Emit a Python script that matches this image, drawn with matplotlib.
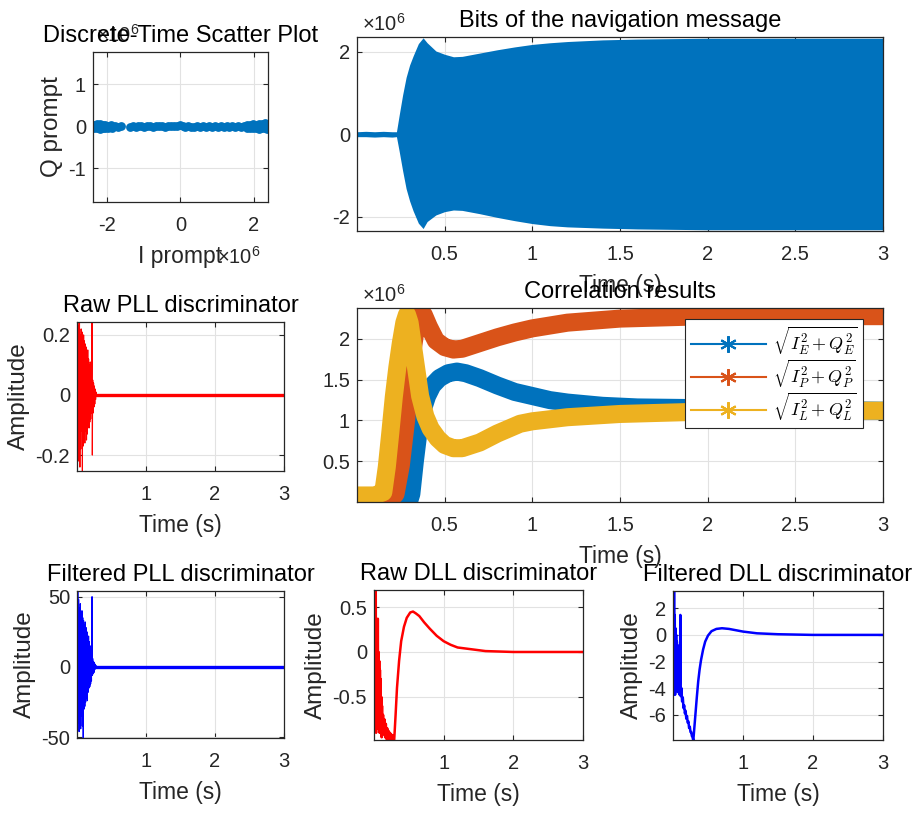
import matplotlib
matplotlib.use("Agg")
import matplotlib.pyplot as plt
from matplotlib.lines import Line2D
from matplotlib.ticker import FuncFormatter

plt.rcParams['font.family'] = ['Liberation Sans', 'DejaVu Sans']
plt.rcParams['mathtext.fontset'] = 'cm'
plt.rcParams['axes.unicode_minus'] = False

# ---- data (large quantities in units of 1e6) ----
# discrete-time scatter (I, Q prompt)
i_prompt = [-2.36, -2.36, -2.28, -2.28, -2.20, -2.20, -2.12, -2.12, -2.04, -2.04,
            -1.96, -1.96, -1.88, -1.86, -1.78, -1.70, -1.62,
            -1.38, -1.30, -1.22, -1.14, -1.06, -0.98, -0.90, -0.82, -0.74, -0.66,
            -0.58, -0.50, -0.42, -0.34, -0.26, -0.18, -0.10, -0.02, 0.06, 0.14,
            0.22, 0.30, 0.38, 0.46, 0.54, 0.62, 0.70, 0.78, 0.86, 0.94, 1.02,
            1.10, 1.18, 1.26, 1.34, 1.42, 1.50, 1.58, 1.66, 1.74,
            1.82, 1.82, 1.90, 1.90, 1.98, 1.98, 2.06, 2.06, 2.14, 2.14,
            2.22, 2.22, 2.30, 2.30, 2.36, 2.36]
q_prompt = [0.04, -0.05, 0.06, -0.04, 0.05, -0.06, 0.03, -0.05, 0.04, -0.03,
            0.02, -0.04, 0.03, -0.03, 0.01, -0.02, 0.00,
            -0.01, 0.01, -0.01, 0.02, 0.00, -0.02, 0.01, 0.02, -0.01, 0.00,
            0.02, 0.01, -0.01, 0.02, 0.00, 0.01, 0.02, 0.03, 0.01, -0.01,
            0.00, -0.02, -0.01, 0.00, -0.02, 0.01, -0.01, 0.00, -0.02, 0.01, -0.01,
            0.00, -0.02, 0.01, -0.01, 0.00, -0.01, 0.01, -0.02, 0.00,
            0.03, -0.04, 0.04, -0.05, 0.05, -0.04, 0.04, -0.05, 0.05, -0.06,
            0.06, -0.05, 0.07, -0.05, 0.05, -0.06]

# navigation bits envelope
bits_t = [0, 0.05, 0.10, 0.15, 0.20, 0.225, 0.24, 0.26, 0.28, 0.30, 0.32, 0.35,
          0.377, 0.40, 0.45, 0.50, 0.55, 0.60, 0.70, 0.80, 0.90, 1.00, 1.10,
          1.20, 1.40, 1.60, 2.00, 2.50, 3.00]
bits_hi = [0.06, 0.07, 0.06, 0.07, 0.06, 0.06, 0.45, 0.95, 1.38, 1.68, 1.90, 2.20,
           2.34, 2.22, 2.02, 1.94, 1.88, 1.89, 1.97, 2.05, 2.12, 2.18, 2.22,
           2.25, 2.29, 2.31, 2.33, 2.33, 2.33]
bits_lo = [-0.06, -0.06, -0.07, -0.06, -0.07, -0.06, -0.40, -0.88, -1.32, -1.62, -1.86, -2.16,
           -2.29, -2.12, -1.96, -1.88, -1.84, -1.85, -1.93, -2.02, -2.10, -2.17, -2.22,
           -2.25, -2.28, -2.30, -2.32, -2.32, -2.32]

# correlation results
corr_e_t = [0, 0.10, 0.20, 0.30, 0.31, 0.33, 0.35, 0.37, 0.40, 0.43, 0.47, 0.52, 0.57,
            0.62, 0.70, 0.80, 0.90, 1.00, 1.10, 1.20, 1.40, 1.60, 2.00, 2.50, 3.00]
corr_e = [0.03, 0.03, 0.03, 0.03, 0.10, 0.50, 0.85, 1.10, 1.30, 1.43, 1.52, 1.58, 1.60,
          1.58, 1.52, 1.43, 1.35, 1.30, 1.25, 1.22, 1.18, 1.16, 1.15, 1.13, 1.12]
corr_p_t = [0, 0.05, 0.10, 0.15, 0.20, 0.22, 0.25, 0.28, 0.30, 0.32, 0.34, 0.36, 0.38,
            0.41, 0.45, 0.50, 0.55, 0.60, 0.70, 0.80, 0.90, 1.00, 1.20, 1.50, 2.00,
            2.50, 3.00]
corr_p = [0.04, 0.04, 0.04, 0.04, 0.05, 0.10, 0.45, 1.00, 1.50, 1.90, 2.20, 2.30, 2.30,
          2.15, 1.98, 1.90, 1.87, 1.88, 1.95, 2.02, 2.08, 2.13, 2.20, 2.25, 2.28,
          2.28, 2.28]
corr_l_t = [0, 0.10, 0.15, 0.17, 0.19, 0.21, 0.23, 0.25, 0.27, 0.285, 0.30, 0.32, 0.34,
            0.36, 0.39, 0.42, 0.46, 0.50, 0.55, 0.60, 0.70, 0.80, 0.93, 1.00, 1.20,
            1.50, 2.00, 2.50, 3.00]
corr_l = [0.08, 0.08, 0.12, 0.43, 0.85, 1.29, 1.65, 1.95, 2.20, 2.30, 2.20, 1.90, 1.60,
          1.30, 1.05, 0.90, 0.78, 0.70, 0.66, 0.66, 0.73, 0.84, 0.96, 0.99, 1.04,
          1.08, 1.11, 1.12, 1.12]
corr_labels = [r'$\sqrt{I_E^2+Q_E^2}$', r'$\sqrt{I_P^2+Q_P^2}$', r'$\sqrt{I_L^2+Q_L^2}$']

# raw PLL discriminator
rpll_t = [0.000, 0.006, 0.012, 0.018, 0.024, 0.030, 0.036, 0.042, 0.048, 0.054,
          0.060, 0.066, 0.072, 0.078, 0.084, 0.090, 0.096, 0.102, 0.108, 0.114,
          0.120, 0.126, 0.132, 0.138, 0.144, 0.150, 0.156, 0.162, 0.168, 0.174,
          0.180, 0.186, 0.192, 0.198, 0.204, 0.210, 0.218, 0.222, 0.228, 0.234,
          0.240, 0.246, 0.252, 0.258, 0.264, 0.270, 0.276, 0.280]
rpll_v = [0.10, -0.20, 0.25, -0.22, 0.23, -0.15, 0.24, -0.24, 0.20, -0.18,
          0.22, -0.12, 0.21, -0.27, 0.19, -0.17, 0.20, -0.14, 0.18, -0.16,
          0.17, -0.12, 0.16, -0.15, 0.14, -0.13, 0.15, -0.10, 0.12, -0.11,
          0.10, -0.09, 0.11, -0.08, 0.07, -0.06, 0.30, -0.20, 0.05, -0.06,
          0.04, -0.04, 0.03, -0.03, 0.02, -0.015, 0.01, 0.0]
rpll_tail_t = [0.28, 3.0]
rpll_tail_v = [0.0, 0.0]

# filtered PLL discriminator
fpll_t = rpll_t
fpll_v = [30, -45, 56, -40, 48, -46, 42, -30, 45, -44,
          38, -35, 40, -42, 35, -52, 33, -30, 30, -28,
          32, -25, 28, -22, 25, -24, 20, -18, 22, -15,
          18, -14, 15, -12, 12, -10, 50, -6, 6, -5,
          4, -4, 3, -2, 2, -1, 1, 0]
fpll_tail_t = [0.28, 3.0]
fpll_tail_v = [0.0, 0.0]

# raw DLL discriminator
rdll_t = [0.000, 0.005, 0.010, 0.015, 0.020, 0.025, 0.030, 0.035, 0.040, 0.045,
          0.050, 0.055, 0.060, 0.065, 0.070, 0.075, 0.080, 0.085, 0.090, 0.095,
          0.100, 0.105, 0.110, 0.115, 0.120, 0.13, 0.14, 0.15, 0.16, 0.17, 0.18,
          0.19, 0.20, 0.21, 0.22, 0.23, 0.24, 0.25, 0.26, 0.27, 0.28, 0.29,
          0.31, 0.33, 0.36, 0.39, 0.43, 0.47, 0.52, 0.56, 0.60, 0.65, 0.72,
          0.80, 0.90, 1.0, 1.1, 1.2, 1.4, 1.6, 2.0, 2.5, 3.0]
rdll_v = [-0.80, 0.30, -0.85, 0.35, -0.60, 0.75, -0.90, 0.20, -0.70, 0.10,
          -0.85, 0.37, -0.80, 0.00, -0.75, -0.10, -0.90, -0.20, -0.85, -0.30,
          -0.90, -0.50, -0.95, -0.60, -0.90, -0.70, -0.92, -0.75, -0.95, -0.80, -0.97,
          -0.85, -0.98, -0.88, -0.99, -0.90, -0.98, -0.92, -1.00, -0.93, -1.00, -0.98,
          -0.70, -0.40, -0.10, 0.12, 0.28, 0.38, 0.44, 0.45, 0.43, 0.40, 0.33,
          0.26, 0.18, 0.12, 0.08, 0.05, 0.03, 0.01, 0.0, 0.0, 0.0]

# filtered DLL discriminator
fdll_t = [0.000, 0.005, 0.010, 0.015, 0.020, 0.025, 0.030, 0.035, 0.040, 0.045,
          0.050, 0.055, 0.060, 0.065, 0.070, 0.075, 0.080, 0.085, 0.090, 0.095,
          0.100, 0.105, 0.110, 0.12, 0.13, 0.14, 0.15, 0.16, 0.17, 0.18, 0.19,
          0.20, 0.21, 0.22, 0.23, 0.24, 0.25, 0.26, 0.27, 0.28, 0.29,
          0.30, 0.32, 0.34, 0.36, 0.38, 0.40, 0.43, 0.46, 0.50, 0.55, 0.62,
          0.70, 0.80, 0.90, 1.0, 1.2, 1.5, 2.0, 2.5, 3.0]
fdll_v = [-4.5, 1.0, -4.0, 3.5, -3.0, 1.5, -4.5, 0.5, -3.5, 0.0,
          -4.2, -0.5, -3.8, -1.0, -4.3, -1.5, -4.0, -0.8, -2.0, -4.5,
          -3.0, 1.5, -4.6, -4.0, -5.0, -4.7, -5.5, -5.3, -5.9, -5.7, -6.3,
          -6.1, -6.6, -6.5, -7.0, -6.9, -7.3, -7.3, -7.6, -7.7, -7.95,
          -7.3, -6.0, -4.7, -3.5, -2.6, -1.9, -1.1, -0.5, -0.05, 0.28, 0.45,
          0.50, 0.45, 0.35, 0.25, 0.12, 0.05, 0.0, 0.0, 0.0]

W, H = 923, 815
fig = plt.figure(figsize=(W / 100, H / 100), dpi=100)


def box(l, t, r, b):
    return [l / W, 1 - b / H, (r - l) / W, (b - t) / H]


fmt = FuncFormatter(lambda v, p: '%g' % v)
TXT = '#262626'


def style(ax, title, xlabel=None, ylabel=None):
    ax.grid(True, color='#e2e2e2', lw=0.8)
    ax.set_axisbelow(True)
    for s in ax.spines.values():
        s.set_color(TXT)
        s.set_linewidth(0.9)
    ax.tick_params(direction='in', length=3.5, width=0.8, top=True, right=True,
                   labelsize=14.5, colors=TXT)
    ax.tick_params(axis='x', pad=10)
    ax.tick_params(axis='y', pad=5)
    ax.xaxis.set_major_formatter(fmt)
    ax.yaxis.set_major_formatter(fmt)
    ax.set_title(title, fontsize=17, pad=7)
    if xlabel:
        ax.set_xlabel(xlabel, fontsize=16.5, color=TXT, labelpad=7)
    if ylabel:
        ax.set_ylabel(ylabel, fontsize=17.5, color=TXT, labelpad=4)


def exp6(ax, x=0.01, y=1.01, ha='left', va='bottom'):
    ax.text(x, y, r'$\mathregular{\times10^{6}}$', transform=ax.transAxes,
            ha=ha, va=va, fontsize=14.5, color=TXT)


# scatter plot
ax = fig.add_axes(box(93, 52, 268, 202))
ax.scatter(i_prompt, q_prompt, s=40, color='#0072BD', linewidths=0)
ax.set_xlim(-2.38, 2.39)
ax.set_ylim(-1.8, 1.77)
ax.set_xticks([-2, 0, 2])
ax.set_yticks([-1, 0, 1])
style(ax, 'Discrete-Time Scatter Plot', 'I prompt', 'Q prompt')
exp6(ax, 0.02, 1.04)
exp6(ax, 0.96, -0.29, ha='right', va='top')

# navigation bits
ax = fig.add_axes(box(357, 37, 883, 231))
ax.fill_between(bits_t, bits_lo, bits_hi, color='#0072BD', lw=0)
ax.set_xlim(0, 3)
ax.set_ylim(-2.35, 2.36)
ax.set_xticks([0.5, 1, 1.5, 2, 2.5, 3])
ax.set_yticks([-2, 0, 2])
style(ax, 'Bits of the navigation message', 'Time (s)')
exp6(ax)

# raw PLL
ax = fig.add_axes(box(77, 322, 284, 471))
ax.plot(rpll_t, rpll_v, color='#FF0000', lw=0.8)
ax.plot(rpll_tail_t, rpll_tail_v, color='#FF0000', lw=2.4)
ax.set_xlim(0, 3)
ax.set_ylim(-0.253, 0.243)
ax.set_xticks([1, 2, 3])
ax.set_yticks([-0.2, 0, 0.2])
style(ax, 'Raw PLL discriminator', 'Time (s)', 'Amplitude')

# correlation results
ax = fig.add_axes(box(357, 308, 883, 502))
for tt, vv, c in [(corr_e_t, corr_e, '#0072BD'), (corr_p_t, corr_p, '#D95319'),
                  (corr_l_t, corr_l, '#EDB120')]:
    ax.plot(tt, vv, color=c, lw=13, solid_capstyle='butt', solid_joinstyle='round')
ax.set_xlim(0, 3)
ax.set_ylim(0, 2.38)
ax.set_xticks([0.5, 1, 1.5, 2, 2.5, 3])
ax.set_yticks([0.5, 1, 1.5, 2])
style(ax, 'Correlation results', 'Time (s)')
exp6(ax)
handles = [Line2D([], [], color=c, lw=1.5, marker=(6, 2, 0), markersize=12, markeredgewidth=1.5)
           for c in ['#0072BD', '#D95319', '#EDB120']]
leg = ax.legend(handles, corr_labels, loc='upper right', bbox_to_anchor=(0.962, 0.943),
                borderaxespad=0, fontsize=13, fancybox=False, framealpha=1,
                edgecolor='#262626', handlelength=4.2, handletextpad=0.35,
                labelspacing=0.05, borderpad=0.3)
leg.get_frame().set_linewidth(0.8)

# filtered PLL
ax = fig.add_axes(box(77, 591, 284, 738))
ax.plot(fpll_t, fpll_v, color='#0000FF', lw=0.8)
ax.plot(fpll_tail_t, fpll_tail_v, color='#0000FF', lw=2.4)
ax.set_xlim(0, 3)
ax.set_ylim(-50.5, 54)
ax.set_xticks([1, 2, 3])
ax.set_yticks([-50, 0, 50])
style(ax, 'Filtered PLL discriminator', 'Time (s)', 'Amplitude')

# raw DLL
ax = fig.add_axes(box(374, 590, 583, 740))
ax.plot(rdll_t, rdll_v, color='#FF0000', lw=1.8)
ax.set_xlim(0, 3)
ax.set_ylim(-0.98, 0.69)
ax.set_xticks([1, 2, 3])
ax.set_yticks([-0.5, 0, 0.5])
style(ax, 'Raw DLL discriminator', 'Time (s)', 'Amplitude')

# filtered DLL
ax = fig.add_axes(box(673, 591, 883, 740))
ax.plot(fdll_t, fdll_v, color='#0000FF', lw=1.8)
ax.set_xlim(0, 3)
ax.set_ylim(-7.9, 3.3)
ax.set_xticks([1, 2, 3])
ax.set_yticks([-6, -4, -2, 0, 2])
style(ax, 'Filtered DLL discriminator', 'Time (s)', 'Amplitude')

fig.savefig('out.png', dpi=100)
